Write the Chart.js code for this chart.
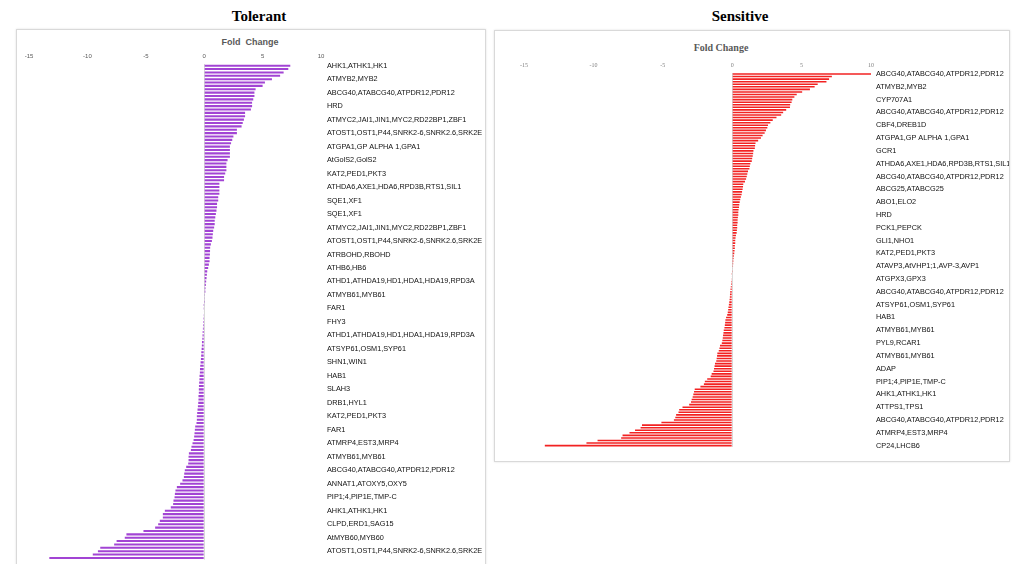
<!DOCTYPE html>
<html><head><meta charset="utf-8">
<script src="https://cdn.jsdelivr.net/npm/chart.js@4/dist/chart.umd.min.js"></script>
<style>
html,body{margin:0;padding:0;background:#fff;overflow:hidden;width:1017px;height:564px;}
.abs{position:absolute;}
.box{position:absolute;border:1px solid #d9d9d9;box-sizing:border-box;box-shadow:0 0 2px rgba(0,0,0,0.12);background:#fff;}
.t{position:absolute;transform:translate(-50%,-50%);white-space:nowrap;line-height:1;}
</style></head><body>
<div class="box" style="left:16px;top:29px;width:470px;height:560px"></div>
<div class="box" style="left:494px;top:30px;width:516px;height:432px"></div>
<div class="t" style="left:259px;top:16px;font:bold 15px 'Liberation Serif',serif;color:#000">Tolerant</div>
<div class="t" style="left:740px;top:16px;font:bold 15px 'Liberation Serif',serif;color:#000">Sensitive</div>
<div class="t" style="left:250px;top:42px;font:bold 9px 'Liberation Sans',sans-serif;color:#595959">Fold&nbsp; Change</div>
<div class="t" style="left:721px;top:47px;font:bold 10px 'Liberation Serif',serif;color:#595959">Fold Change</div>
<canvas id="c1" class="abs" style="left:16px;top:30px" width="469" height="540"></canvas>
<canvas id="c2" class="abs" style="left:494px;top:30px" width="515" height="432"></canvas>
<script>
// ---------------- DATA ----------------
const xTicks = [-15, -10, -5, 0, 5, 10];

const tolerantTickLabels = [
 "AHK1,ATHK1,HK1","ATMYB2,MYB2","ABCG40,ATABCG40,ATPDR12,PDR12","HRD",
 "ATMYC2,JAI1,JIN1,MYC2,RD22BP1,ZBF1","ATOST1,OST1,P44,SNRK2-6,SNRK2.6,SRK2E",
 "ATGPA1,GP ALPHA 1,GPA1","AtGolS2,GolS2","KAT2,PED1,PKT3","ATHDA6,AXE1,HDA6,RPD3B,RTS1,SIL1",
 "SQE1,XF1","SQE1,XF1","ATMYC2,JAI1,JIN1,MYC2,RD22BP1,ZBF1","ATOST1,OST1,P44,SNRK2-6,SNRK2.6,SRK2E",
 "ATRBOHD,RBOHD","ATHB6,HB6","ATHD1,ATHDA19,HD1,HDA1,HDA19,RPD3A","ATMYB61,MYB61",
 "FAR1","FHY3","ATHD1,ATHDA19,HD1,HDA1,HDA19,RPD3A","ATSYP61,OSM1,SYP61","SHN1,WIN1",
 "HAB1","SLAH3","DRB1,HYL1","KAT2,PED1,PKT3","FAR1","ATMRP4,EST3,MRP4","ATMYB61,MYB61",
 "ABCG40,ATABCG40,ATPDR12,PDR12","ANNAT1,ATOXY5,OXY5","PIP1;4,PIP1E,TMP-C","AHK1,ATHK1,HK1",
 "CLPD,ERD1,SAG15","AtMYB60,MYB60","ATOST1,OST1,P44,SNRK2-6,SNRK2.6,SRK2E"
];
const tolerantLabelEvery = 4;
const tolerantValues = [
 7.37,7.2,6.8,6.5,5.8,5.2,5.0,4.4,4.3,4.3,
 4.2,4.1,4.1,4.0,3.5,3.5,3.4,3.3,3.2,2.8,
 2.8,2.5,2.4,2.3,2.2,2.2,2.2,2.2,2.0,1.9,
 1.9,1.9,1.8,1.7,1.7,1.3,1.3,1.3,1.3,1.2,
 1.2,1.1,1.1,1.05,1.0,0.95,0.9,0.9,0.85,
 0.77,0.74,0.71,0.66,0.57,0.51,0.5,0.49,0.46,0.46,
 0.4,0.34,0.26,0.23,0.2,0.17,0.14,0.11,0.1,0.06,
 0.03,0.01,-0.01,-0.02,-0.04,-0.06,-0.08,-0.09,-0.1,-0.11,
 -0.13,-0.14,-0.16,-0.19,-0.2,-0.22,-0.25,-0.26,-0.28,-0.31,
 -0.34,-0.36,-0.37,-0.4,-0.41,-0.43,-0.45,
 -0.46,-0.46,-0.49,-0.49,-0.51,-0.54,-0.57,-0.6,-0.63,-0.63,
 -0.66,-0.77,-0.8,-0.83,-0.86,-0.91,-1.0,-1.09,-1.14,-1.31,
 -1.34,-1.34,-1.37,-1.54,-1.66,-1.71,-1.74,-1.86,-2.06,-2.34,
 -2.46,-2.51,-2.54,-2.63,-2.66,-2.86,-3.37,-3.54,-3.54,-3.8,
 -3.94,-4.2,-5.2,-6.66,-6.8,-7.5,-7.71,-8.9,-9.1,-9.54,
 -13.26
];

const sensitiveTickLabels = [
 "ABCG40,ATABCG40,ATPDR12,PDR12","ATMYB2,MYB2","CYP707A1","ABCG40,ATABCG40,ATPDR12,PDR12",
 "CBF4,DREB1D","ATGPA1,GP ALPHA 1,GPA1","GCR1","ATHDA6,AXE1,HDA6,RPD3B,RTS1,SIL1",
 "ABCG40,ATABCG40,ATPDR12,PDR12","ABCG25,ATABCG25","ABO1,ELO2","HRD","PCK1,PEPCK",
 "GLI1,NHO1","KAT2,PED1,PKT3","ATAVP3,AtVHP1;1,AVP-3,AVP1","ATGPX3,GPX3",
 "ABCG40,ATABCG40,ATPDR12,PDR12","ATSYP61,OSM1,SYP61","HAB1","ATMYB61,MYB61","PYL9,RCAR1",
 "ATMYB61,MYB61","ADAP","PIP1;4,PIP1E,TMP-C","AHK1,ATHK1,HK1","ATTPS1,TPS1",
 "ABCG40,ATABCG40,ATPDR12,PDR12","ATMRP4,EST3,MRP4","CP24,LHCB6"
];
const sensitiveLabelEvery = 5;
const sensitiveValues = [
 10.0,7.18,6.98,6.79,6.16,5.94,5.6,5.04,4.65,4.48,
 4.33,4.28,4.18,4.16,3.89,3.67,3.53,3.19,2.92,2.75,
 2.58,2.53,2.43,2.34,2.19,2.07,1.87,1.68,1.65,1.63,
 1.53,1.51,1.48,1.44,1.41,1.31,1.27,1.24,1.14,1.09,
 1.05,1.0,0.92,0.8,0.78,0.75,0.71,0.68,0.63,0.58,
 0.54,0.51,0.49,0.46,0.44,0.44,0.41,0.39,0.39,0.36,
 0.36,0.34,0.32,0.27,0.24,0.22,0.22,0.19,0.19,0.17,
 0.15,0.12,0.1,0.08,0.07,0.06,0.04,0.02,
 -0.02,-0.04,-0.05,-0.07,-0.08,-0.1,-0.12,-0.14,-0.16,-0.17,
 -0.19,-0.21,-0.24,-0.27,-0.29,-0.32,-0.36,-0.44,-0.49,-0.51,
 -0.53,-0.56,-0.61,-0.63,-0.66,-0.68,-0.71,-0.75,-0.88,-0.92,
 -0.97,-1.07,-1.09,-1.12,-1.15,-1.24,-1.27,-1.31,-1.35,-1.48,
 -1.55,-1.8,-1.97,-2.04,-2.29,-2.7,-2.75,-2.8,-2.85,-2.92,
 -2.97,-3.1,-3.58,-3.82,-3.87,-4.04,-4.1,-4.2,-5.1,-6.5,
 -6.6,-7.0,-7.4,-7.9,-8.0,-9.7,-10.5,-13.5
];

// ---------------- helpers ----------------
function hasFont(name){
  const c = document.createElement('canvas').getContext('2d');
  const s = 'ABCG40,ATABCG40 mmmwwwiiilll';
  c.font = '20px monospace'; const a = c.measureText(s).width;
  c.font = '20px "' + name + '", monospace'; const b = c.measureText(s).width;
  return a !== b;
}
const narrow = hasFont('Liberation Sans Narrow');
const labelFont = narrow ? {family:"'Liberation Sans Narrow'", size:8.9} : {family:"'Liberation Sans'", size:7.3};

function makeChart(id, values, tickLabels, every, cfg){
  const cats = values.map((v,i)=>String(i));
  return new Chart(document.getElementById(id), {
    type:'bar',
    data:{labels:cats, datasets:[{data:values, backgroundColor:cfg.color, borderWidth:0,
      barPercentage:cfg.barPct, categoryPercentage:1.0}]},
    options:{
      indexAxis:'y', responsive:false, animation:false, devicePixelRatio:1,
      layout:{padding:cfg.padding},
      plugins:{legend:{display:false}, tooltip:{enabled:false}},
      scales:{
        x:{position:'top', min:-15, max:10,
           afterBuildTicks:(s)=>{ s.ticks = xTicks.map(v=>({value:v})); },
           afterFit:(s)=>{ s.height = cfg.xHeight; },
           border:{display:false},
           grid:{drawTicks:false, color:(c)=> (c.tick && c.tick.value===0) ? '#d9d9d9' : 'rgba(0,0,0,0)', lineWidth:1},
           ticks:{padding:4, color:cfg.tickColor, font:{family:cfg.tickFamily, size:6}, maxRotation:0}
        },
        y:{position:'right',
           afterFit:(s)=>{ s.width = cfg.yWidth; },
           border:{display:false}, grid:{display:false, drawTicks:false},
           ticks:{autoSkip:false, padding:cfg.labelPad, color:'#111', font:labelFont,
             callback:(v,i)=> (i % every === 0) ? (tickLabels[i/every] || '') : ''}
        }
      }
    }
  });
}

makeChart('c1', tolerantValues, tolerantTickLabels, tolerantLabelEvery, {
  color:'#a244d4', barPct:0.62, padding:{left:13, top:0, right:0, bottom:6.2},
  xHeight:34, yWidth:164, labelPad:6, tickColor:'#595959', tickFamily:"'Liberation Sans'"
});
makeChart('c2', sensitiveValues, sensitiveTickLabels, sensitiveLabelEvery, {
  color:'rgb(242,34,34)', barPct:0.62, padding:{left:30, top:0, right:0, bottom:15.1},
  xHeight:42.7, yWidth:138, labelPad:5, tickColor:'#7f7f7f', tickFamily:"'Liberation Serif'"
});
</script>
</body></html>
